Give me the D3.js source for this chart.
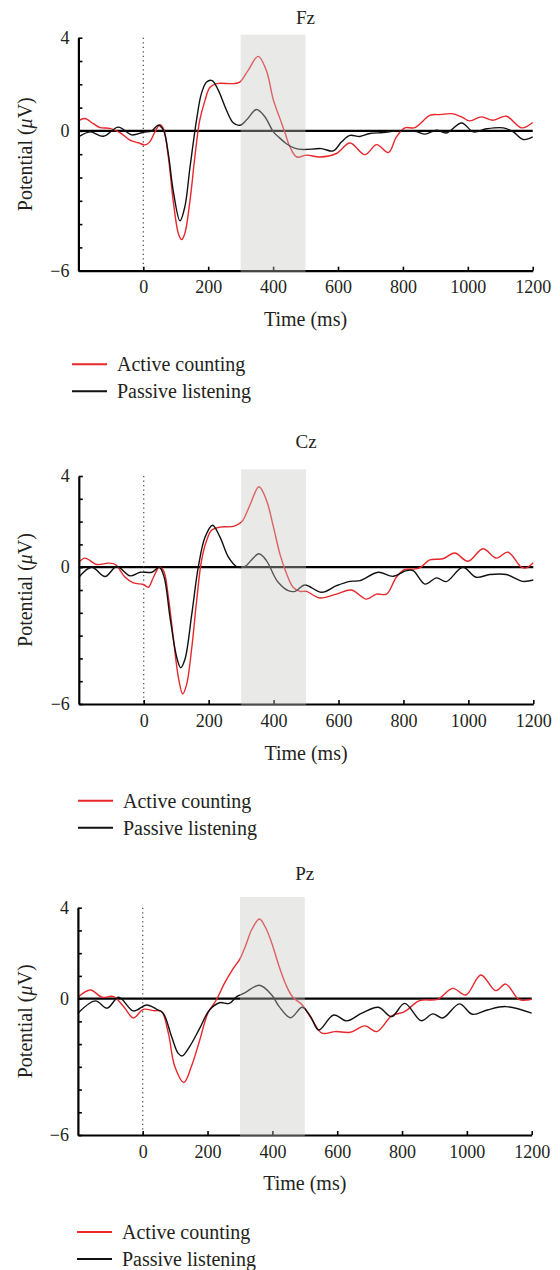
<!DOCTYPE html>
<html>
<head>
<meta charset="utf-8">
<script src="https://cdn.jsdelivr.net/npm/d3@7"></script>
<style>
  html, body { margin: 0; padding: 0; background: #fff; }
  svg { display: block; }
  text { font-family: "Liberation Serif", "Times New Roman", serif; fill: #231f20; }
</style>
</head>
<body>
<svg id="chart" width="560" height="1270"></svg>
<script>
// ---------------- DATA ----------------
const electrodes = ["Fz", "Cz", "Pz"];
const seriesNames = ["Active counting", "Passive listening"];
const xTicks = [0, 200, 400, 600, 800, 1000, 1200];
const yTicks = [-6, -5, -4, -3, -2, -1, 0, 1, 2, 3, 4];
const yTickLabels = {"4": "4", "0": "0", "-6": "\u22126"};
const timeDomain = [-200, 1200];
const voltDomain = [-6, 4];
const windowMs = [300, 500];

// [time (ms), potential (µV)]
const fzActive = [[-200,0.43],[-180,0.53],[-154,0.31],[-133,0.14],[-103,0.11],[-72,-0.07],[-41,-0.4],[-15,-0.51],[5,-0.6],[20,-0.47],[36,-0.04],[51,0.27],[62,0.1],[77,-1.1],[92,-2.98],[108,-4.4],[118,-4.66],[128,-4.4],[144,-2.98],[159,-1.1],[174,0.46],[190,1.3],[205,1.86],[226,2.03],[277,2.03],[297,2.09],[323,2.6],[354,3.2],[379,2.6],[401,1.32],[420,0.57],[436,-0.05],[452,-0.69],[473,-1.12],[503,-1.04],[544,-1.12],[595,-0.97],[637,-0.52],[683,-1.02],[719,-0.59],[755,-0.93],[780,-0.26],[806,0.13],[837,0.14],[883,0.67],[914,0.7],[950,0.74],[981,0.6],[1006,0.43],[1042,0.6],[1078,0.46],[1119,0.63],[1166,0.13],[1200,0.36]];
const fzPassive = [[-200,-0.26],[-164,-0.04],[-123,-0.23],[-77,0.16],[-36,-0.17],[0,-0.06],[26,0],[46,0.24],[62,0.03],[77,-0.97],[92,-2.55],[113,-3.86],[128,-3.26],[144,-1.55],[164,0.46],[179,1.6],[195,2.1],[212,2.16],[231,1.75],[256,0.9],[277,0.35],[298,0.24],[320,0.5],[349,0.92],[374,0.62],[401,-0.04],[420,-0.3],[441,-0.55],[466,-0.74],[493,-0.8],[549,-0.76],[585,-0.86],[611,-0.47],[637,-0.19],[667,-0.24],[698,-0.11],[739,-0.07],[780,0],[811,0],[842,-0.03],[868,-0.14],[904,0.03],[934,-0.09],[981,0.34],[1017,-0.04],[1058,0.09],[1109,0.13],[1140,-0.04],[1171,-0.37],[1200,-0.26]];

const czActive = [[-200,0.22],[-181,0.4],[-145,0.12],[-109,0.18],[-88,0.12],[-57,-0.44],[-32,-0.69],[-1,-0.76],[14,-0.88],[30,-0.44],[48,0],[61,-0.15],[76,-1.32],[91,-3.09],[107,-4.85],[120,-5.56],[132,-5.15],[148,-3.53],[163,-1.47],[178,0.29],[194,1.18],[209,1.62],[235,1.76],[276,1.79],[302,1.99],[327,2.72],[355,3.53],[378,2.94],[399,1.8],[420,0.55],[440,-0.29],[460,-0.88],[481,-1.06],[501,-1.06],[542,-1.35],[594,-1.18],[640,-1.0],[686,-1.4],[717,-1.18],[748,-1.18],[778,-0.44],[804,-0.1],[825,-0.09],[850,-0.03],[881,0.32],[922,0.37],[958,0.62],[999,0.26],[1045,0.81],[1086,0.4],[1122,0.66],[1163,0],[1178,-0.03],[1200,0.2]];
const czPassive = [[-200,-0.44],[-160,0],[-119,-0.41],[-83,0.03],[-42,-0.38],[-11,-0.22],[25,-0.22],[48,0],[63,-0.44],[81,-2.2],[102,-3.97],[114,-4.41],[127,-4.04],[148,-2.06],[168,0],[189,1.32],[212,1.84],[235,1.32],[261,0.44],[286,0.03],[312,0.03],[332,0.32],[355,0.59],[378,0.29],[404,-0.44],[414,-0.66],[445,-1.03],[466,-1.06],[496,-0.78],[548,-1.1],[594,-0.81],[635,-0.62],[666,-0.59],[722,-0.22],[768,-0.4],[809,-0.15],[830,-0.15],[866,-0.74],[902,-0.47],[932,-0.63],[983,0],[1024,-0.44],[1066,-0.32],[1117,-0.32],[1168,-0.62],[1200,-0.56]];

const pzActive = [[-200,0.06],[-161,0.38],[-126,0.06],[-90,0.09],[-59,-0.35],[-29,-0.85],[2,-0.47],[33,-0.53],[58,-0.57],[79,-1.52],[99,-2.99],[127,-3.69],[150,-2.99],[176,-1.82],[201,-0.64],[227,-0.06],[252,0.67],[278,1.3],[300,1.75],[318,2.35],[336,3.03],[360,3.5],[378,3.15],[398,2.45],[420,1.45],[442,0.6],[462,0.08],[492,-0.28],[523,-0.94],[553,-1.52],[594,-1.45],[640,-1.48],[686,-1.2],[722,-1.45],[768,-0.76],[808,-0.57],[854,-0.09],[910,-0.03],[956,0.45],[997,0.16],[1043,1.04],[1089,0.35],[1120,0.64],[1160,-0.03],[1186,-0.06],[1200,-0.02]];
const pzPassive = [[-200,-0.64],[-146,-0.1],[-110,-0.42],[-74,0.06],[-29,-0.54],[12,-0.28],[43,-0.47],[63,-0.64],[89,-1.67],[109,-2.4],[122,-2.52],[145,-2.1],[176,-1.3],[206,-0.5],[237,-0.18],[267,-0.21],[290,0.09],[313,0.24],[360,0.59],[398,0.16],[421,-0.35],[456,-0.84],[492,-0.38],[518,-0.79],[543,-1.38],[589,-0.72],[630,-0.98],[676,-0.64],[727,-0.38],[768,-0.79],[808,-0.21],[859,-0.97],[895,-0.67],[926,-0.85],[977,-0.23],[1017,-0.69],[1063,-0.5],[1120,-0.35],[1200,-0.64]];

const panelData = {
  Fz: [fzActive, fzPassive],
  Cz: [czActive, czPassive],
  Pz: [pzActive, pzPassive]
};

// ---------------- LAYOUT ----------------
const seriesColors = ["#e8262b", "#111111"];
const layout = {
  Fz: {x0: 78.4, x1: 532.7, yTop: 37.7, yBot: 270.7, shadeTop: 34.7, titleY: 17, timeY: 319, legY: 364.3, legX: 72},
  Cz: {x0: 78.8, x1: 533.3, yTop: 476, yBot: 704, shadeTop: 469.3, titleY: 441.7, timeY: 753, legY: 800.7, legX: 78},
  Pz: {x0: 77.9, x1: 531.7, yTop: 907.7, yBot: 1135, shadeTop: 897, titleY: 873.3, timeY: 1183, legY: 1232, legX: 77}
};

const svg = d3.select("#chart");

electrodes.forEach(name => {
  const L = layout[name];
  const x = d3.scaleLinear().domain(timeDomain).range([L.x0, L.x1]);
  const y = d3.scaleLinear().domain(voltDomain).range([L.yBot, L.yTop]);
  const g = svg.append("g");

  // zero baseline
  g.append("line")
    .attr("x1", x(timeDomain[0])).attr("x2", x(timeDomain[1]))
    .attr("y1", y(0)).attr("y2", y(0))
    .attr("stroke", "#000").attr("stroke-width", 2.3);

  // stimulus onset dotted line
  g.append("line")
    .attr("x1", x(0)).attr("x2", x(0))
    .attr("y1", y(voltDomain[1])).attr("y2", y(voltDomain[0]))
    .attr("stroke", "#444").attr("stroke-width", 1.2)
    .attr("stroke-dasharray", "1.2,3.3");

  // curves
  const line = d3.line()
    .x(d => x(d[0])).y(d => y(d[1]))
    .curve(d3.curveCatmullRom.alpha(0.5));
  panelData[name].forEach((s, i) => {
    g.append("path").datum(s)
      .attr("d", line)
      .attr("fill", "none")
      .attr("stroke", seriesColors[i])
      .attr("stroke-width", 1.4)
      .attr("stroke-linejoin", "round");
  });

  // axes
  const xAxis = d3.axisBottom(x).tickValues(xTicks)
    .tickSizeInner(-4).tickSizeOuter(0).tickPadding(10)
    .tickFormat(d3.format("d"));
  const gx = g.append("g").attr("transform", `translate(0,${L.yBot})`).call(xAxis);
  const yAxis = d3.axisLeft(y).tickValues(yTicks)
    .tickSizeInner(-4).tickSizeOuter(0).tickPadding(9)
    .tickFormat(d => yTickLabels[String(d)] || "");
  const gy = g.append("g").attr("transform", `translate(${L.x0},0)`).call(yAxis);
  [gx, gy].forEach(a => {
    a.attr("font-family", null).attr("font-size", null);
    a.select(".domain").attr("stroke", "#000").attr("stroke-width", 2.2);
    a.selectAll(".tick line").attr("stroke", "#000").attr("stroke-width", 1.6);
    a.selectAll(".tick text").style("font-size", "18px").attr("fill", "#231f20");
  });

  // shaded analysis window (semi-transparent, on top)
  g.append("rect")
    .attr("x", x(windowMs[0])).attr("width", x(windowMs[1]) - x(windowMs[0]))
    .attr("y", L.shadeTop).attr("height", L.yBot + 1.2 - L.shadeTop)
    .attr("fill", "#c6c6c2").attr("fill-opacity", 0.38);

  // title
  g.append("text").attr("x", (L.x0 + L.x1) / 2).attr("y", L.titleY)
    .attr("text-anchor", "middle").attr("dominant-baseline", "central")
    .style("font-size", "19px").text(name);

  // x label
  g.append("text").attr("x", (L.x0 + L.x1) / 2).attr("y", L.timeY)
    .attr("text-anchor", "middle").attr("dominant-baseline", "central")
    .style("font-size", "20px").text("Time (ms)");

  // y label
  const yl = g.append("text")
    .attr("transform", `translate(25,${(L.yTop + L.yBot) / 2}) rotate(-90)`)
    .attr("text-anchor", "middle").attr("dominant-baseline", "central")
    .style("font-size", "20px");
  yl.append("tspan").text("Potential (");
  yl.append("tspan").attr("font-style", "italic").text("\u03bc");
  yl.append("tspan").text("V)");

  // legend
  seriesNames.forEach((s, i) => {
    const ly = L.legY + i * 27;
    g.append("line").attr("x1", L.legX).attr("x2", L.legX + 35)
      .attr("y1", ly).attr("y2", ly)
      .attr("stroke", seriesColors[i]).attr("stroke-width", 2);
    g.append("text").attr("x", L.legX + 45).attr("y", ly)
      .attr("dominant-baseline", "central")
      .style("font-size", "20px").text(s);
  });
});
</script>
</body>
</html>
